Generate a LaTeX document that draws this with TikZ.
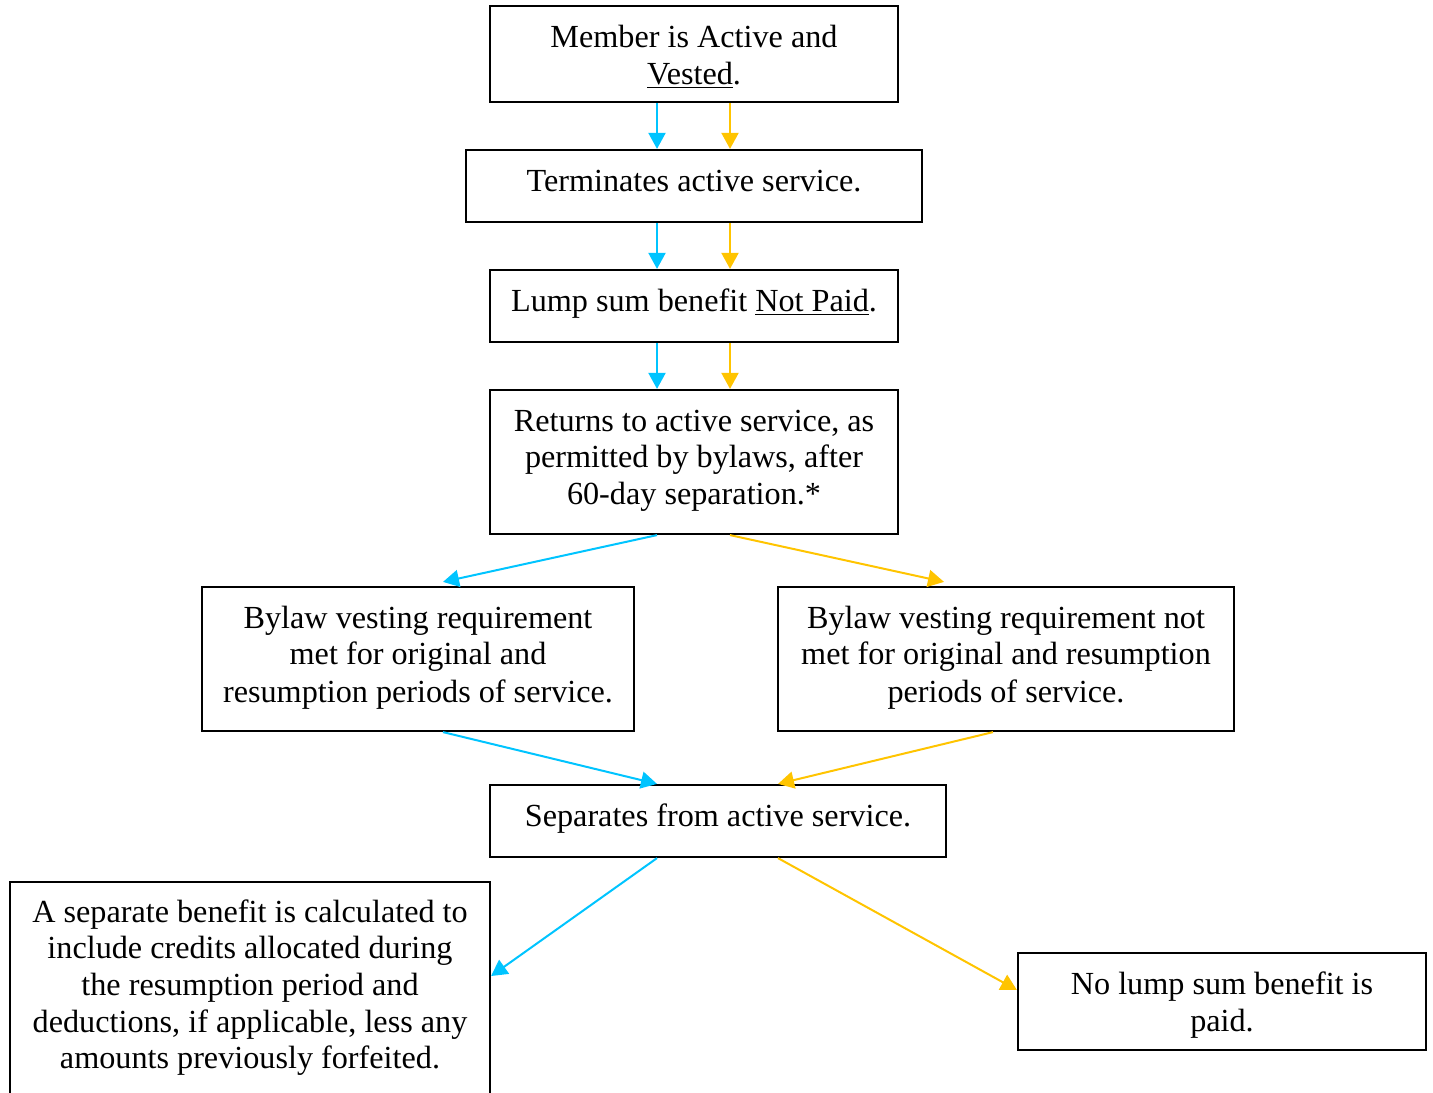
\documentclass[tikz,border=0pt]{standalone}
\usepackage{fontspec}
\setmainfont{Liberation Serif}
\usetikzlibrary{arrows.meta}
\definecolor{cblue}{HTML}{00C4FF}
\definecolor{cyel}{HTML}{FFC400}
\tikzset{
  box/.style={draw=black, line width=1.1pt, rectangle, inner sep=0pt},
  txt/.style={align=center, inner sep=0pt, anchor=base, font=\fontsize{16.1}{18.4}\selectfont},
  barrow/.style={draw=cblue, line width=1pt, -{Triangle[length=8pt,width=8.5pt]}},
  yarrow/.style={draw=cyel, line width=1pt, -{Triangle[length=8pt,width=8.5pt]}},
}
\begin{document}
\begin{tikzpicture}[x=0.5pt,y=-0.5pt]
\useasboundingbox (0,0) rectangle (1433,1092);
\begin{scope}
\clip (0,0) rectangle (1433,1092);
% boxes
\node[box, minimum width=204pt, minimum height=48pt] (m) at (694,54) {};
\node[box, minimum width=228pt, minimum height=36pt] (t) at (694,186) {};
\node[box, minimum width=204pt, minimum height=36pt] (l) at (694,306) {};
\node[box, minimum width=204pt, minimum height=72pt] (r) at (694,462) {};
\node[box, minimum width=216pt, minimum height=72pt] (bm) at (418,659) {};
\node[box, minimum width=228pt, minimum height=72pt] (bn) at (1006,659) {};
\node[box, minimum width=228pt, minimum height=36pt] (s) at (718,821) {};
\node[box, minimum width=240pt, minimum height=120pt] (sb) at (250,1002) {};
\node[box, minimum width=204pt, minimum height=48.5pt] (nl) at (1222,1001.5) {};
\end{scope}
% texts
\node[txt] (mt1) at (694,47) {Member is Active and};
\node[txt] (mt2) at (694,84) {\underline{Vested}.};
\node[txt] (tt) at (694,191) {Terminates active service.};
\node[txt] (lt) at (694,311) {Lump sum benefit \underline{Not Paid}.};
\node[txt] (rt1) at (694,431) {Returns to active service, as};
\node[txt] (rt2) at (694,467) {permitted by bylaws, after};
\node[txt] (rt3) at (694,504) {60-day separation.*};
\node[txt] (bmt1) at (418,628) {Bylaw vesting requirement};
\node[txt] (bmt2) at (418,664) {met for original and};
\node[txt] (bmt3) at (418,702) {resumption periods of service.};
\node[txt] (bnt1) at (1006,628) {Bylaw vesting requirement not};
\node[txt] (bnt2) at (1006,664) {met for original and resumption};
\node[txt] (bnt3) at (1006,702) {periods of service.};
\node[txt] (st) at (718,826) {Separates from active service.};
\node[txt] (sbt1) at (250,922) {A separate benefit is calculated to};
\node[txt] (sbt2) at (250,958) {include credits allocated during};
\node[txt] (sbt3) at (250,995) {the resumption period and};
\node[txt] (sbt4) at (250,1032) {deductions, if applicable, less any};
\node[txt] (sbt5) at (250,1068) {amounts previously forfeited.};
\node[txt] (nlt1) at (1222,994) {No lump sum benefit is};
\node[txt] (nlt2) at (1222,1031) {paid.};
% connectors
\draw[barrow] (m.south -| 657,0) -- (t.north -| 657,0);
\draw[yarrow] (m.south -| 730,0) -- (t.north -| 730,0);
\draw[barrow] (t.south -| 657,0) -- (l.north -| 657,0);
\draw[yarrow] (t.south -| 730,0) -- (l.north -| 730,0);
\draw[barrow] (l.south -| 657,0) -- (r.north -| 657,0);
\draw[yarrow] (l.south -| 730,0) -- (r.north -| 730,0);
\draw[barrow] (r.south -| 657,0) -- ([yshift=2pt]bm.north -| 443,0);
\draw[yarrow] (r.south -| 730,0) -- ([yshift=2pt]bn.north -| 944,0);
\draw[barrow] (bm.south -| 443,0) -- (s.north -| 657,0);
\draw[yarrow] (bn.south -| 993,0) -- (s.north -| 778,0);
\draw[barrow] (s.south -| 657,0) -- (sb.east |- 0,976);
\draw[yarrow] (s.south -| 778,0) -- (nl.west |- 0,990);
\end{tikzpicture}
\end{document}
